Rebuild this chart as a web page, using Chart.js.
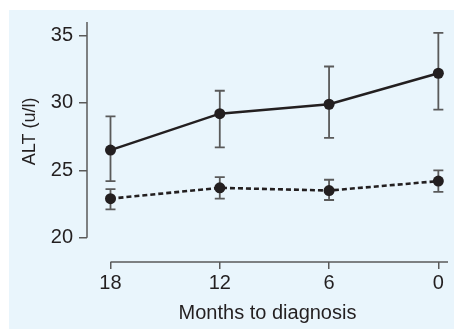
<!DOCTYPE html>
<html>
<head>
<meta charset="utf-8">
<script src="https://cdn.jsdelivr.net/npm/chart.js@4/dist/chart.umd.min.js"></script>
<style>
  html, body { margin: 0; padding: 0; background: #fff; }
  #panel { position: absolute; left: 9px; top: 10px; width: 445px; height: 319px; background: #e9f5fc; }
  #chart { position: absolute; left: 9px; top: 4px; display: block; }
</style>
</head>
<body>
<div id="panel"></div>
<canvas id="chart" width="445" height="325"></canvas>
<script>
// months before diagnosis (x categories)
const months = [18, 12, 6, 0];
const yTicks = [20, 25, 30, 35];

// upper group (solid line)
const solidMean = [26.5, 29.2, 29.9, 32.2];
const solidLow  = [24.2, 26.7, 27.4, 29.5];
const solidHigh = [29.0, 30.9, 32.7, 35.2];

// lower group (dashed line)
const dashMean = [22.9, 23.7, 23.5, 24.2];
const dashLow  = [22.1, 22.9, 22.8, 23.4];
const dashHigh = [23.6, 24.5, 24.3, 25.0];

const ink = '#231f20';
const axisGrey = '#5a5a5a';
const font = { family: '"Liberation Sans", Arial, sans-serif', size: 20 };

const toPoints = (vals) => months.map((m, i) => ({ x: m, y: vals[i] }));

// error bars + R-style detached axes + y title
const extras = {
  id: 'extras',
  beforeDatasetsDraw(chart) {
    const { ctx, chartArea, scales: { x, y } } = chart;
    ctx.save();
    ctx.strokeStyle = axisGrey;
    ctx.lineWidth = 1.5;

    // y axis line from lowest tick up to top
    ctx.beginPath();
    ctx.moveTo(chartArea.left, y.getPixelForValue(yTicks[0]));
    ctx.lineTo(chartArea.left, y.getPixelForValue(y.max));
    // x axis line from first month to right edge
    ctx.moveTo(x.getPixelForValue(months[0]), chartArea.bottom);
    ctx.lineTo(chartArea.right, chartArea.bottom);
    ctx.stroke();

    ctx.lineWidth = 1.8;
    [[solidLow, solidHigh], [dashLow, dashHigh]].forEach(([lo, hi]) => {
      months.forEach((m, i) => {
        const px = x.getPixelForValue(m);
        const top = y.getPixelForValue(hi[i]);
        const bot = y.getPixelForValue(lo[i]);
        ctx.beginPath();
        ctx.moveTo(px, top); ctx.lineTo(px, bot);
        ctx.moveTo(px - 5, top); ctx.lineTo(px + 5, top);
        ctx.moveTo(px - 5, bot); ctx.lineTo(px + 5, bot);
        ctx.stroke();
      });
    });

    // y title centred on the drawn y axis
    const cy = (y.getPixelForValue(yTicks[0]) + y.getPixelForValue(y.max)) / 2;
    ctx.translate(21, cy + 1.5);
    ctx.rotate(-Math.PI / 2);
    ctx.fillStyle = ink;
    ctx.font = '18px "Liberation Sans", Arial, sans-serif';
    ctx.textAlign = 'center';
    ctx.textBaseline = 'middle';
    ctx.fillText('ALT (u/l)', 0, 0);
    ctx.restore();
  }
};

new Chart(document.getElementById('chart'), {
  type: 'line',
  data: {
    datasets: [
      {
        data: toPoints(solidMean),
        borderColor: ink,
        borderWidth: 2.5,
        pointRadius: 5.5,
        pointBackgroundColor: ink,
        pointBorderWidth: 0
      },
      {
        data: toPoints(dashMean),
        borderColor: ink,
        borderWidth: 2.6,
        borderDash: [5, 3],
        pointRadius: 5.5,
        pointBackgroundColor: ink,
        pointBorderWidth: 0
      }
    ]
  },
  options: {
    responsive: false,
    animation: false,
    layout: { padding: { left: 0, top: 18, right: 6, bottom: 0 } },
    plugins: { legend: { display: false }, tooltip: { enabled: false } },
    scales: {
      x: {
        type: 'linear',
        reverse: true,
        min: -0.53,
        max: 19.29,
        border: { display: false },
        grid: { drawOnChartArea: false, drawTicks: true, tickLength: 7, color: axisGrey, lineWidth: 1.5 },
        ticks: { stepSize: 6, includeBounds: false, padding: 2, color: ink, font, maxRotation: 0 },
        title: { display: true, text: 'Months to diagnosis', color: ink, font, padding: { top: 0, bottom: 3.5 } },
        afterFit: (s) => { s.height = 67; }
      },
      y: {
        min: 18.2,
        max: 36,
        border: { display: false },
        grid: { drawOnChartArea: false, drawTicks: true, tickLength: 8, color: axisGrey, lineWidth: 1.5 },
        ticks: { stepSize: 5, includeBounds: false, padding: 6, color: ink, font },
        afterFit: (s) => { s.width = 78; }
      }
    }
  },
  plugins: [extras]
});
</script>
</body>
</html>
